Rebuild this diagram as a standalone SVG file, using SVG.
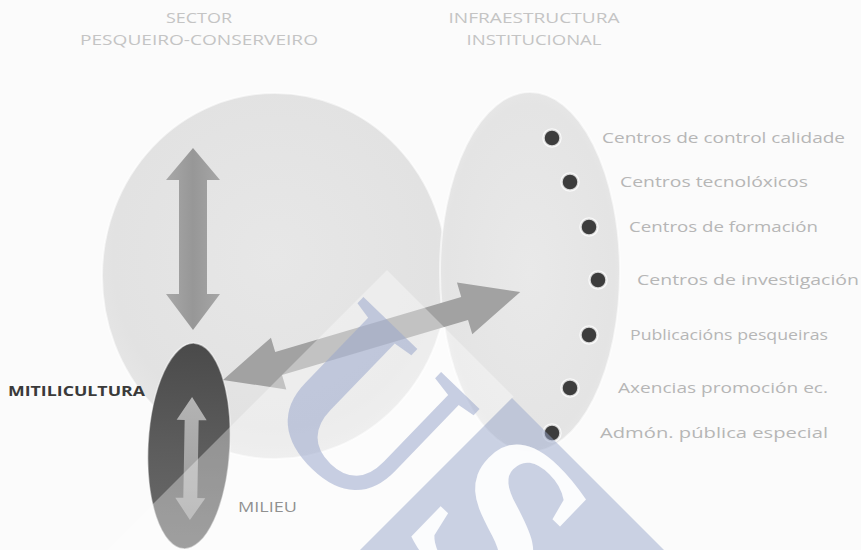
<svg xmlns="http://www.w3.org/2000/svg" width="861" height="550" viewBox="0 0 861 550">
<defs>
<style>
.hdr{font-family:"Open Sans","Liberation Sans",sans-serif;font-size:15px;fill:#c4c4c4;}
.lbl{font-family:"Open Sans","Liberation Sans",sans-serif;font-size:15px;fill:#b6b6b6;}
.dot{fill:#3d3d3d;stroke:#ffffff;stroke-width:2.5;stroke-opacity:0.8;}
.big{stroke:#ffffff;stroke-width:2;stroke-opacity:0.6;}
.wm{font-family:"Liberation Serif",serif;font-size:240px;font-weight:bold;}
</style>
<radialGradient id="gL" cx="0.5" cy="0.45" r="0.55">
<stop offset="0" stop-color="#e7e7e7"/>
<stop offset="0.85" stop-color="#e2e2e2"/>
<stop offset="1" stop-color="#e6e6e6"/>
</radialGradient>
<radialGradient id="gR" cx="0.5" cy="0.5" r="0.55">
<stop offset="0" stop-color="#e9e9e9"/>
<stop offset="0.85" stop-color="#e4e4e4"/>
<stop offset="1" stop-color="#e9e9e9"/>
</radialGradient>
<linearGradient id="gDark" x1="0" y1="0" x2="0" y2="1">
<stop offset="0" stop-color="#4a4a4a"/>
<stop offset="0.5" stop-color="#5c5c5c"/>
<stop offset="1" stop-color="#6c6c6c"/>
</linearGradient>
<linearGradient id="gV" x1="0" y1="0" x2="1" y2="0">
<stop offset="0" stop-color="#a8a8a8"/>
<stop offset="0.5" stop-color="#979797"/>
<stop offset="1" stop-color="#a6a6a6"/>
</linearGradient>
<linearGradient id="gIn" x1="0" y1="0" x2="0" y2="1">
<stop offset="0" stop-color="#b4b4b4"/>
<stop offset="1" stop-color="#9a9a9a"/>
</linearGradient>
</defs>

<rect x="0" y="0" width="861" height="550" fill="#fbfbfb"/>

<g id="node-sector">
<ellipse class="big" cx="275" cy="276" rx="173" ry="183" fill="url(#gL)"/>
<text class="hdr" x="199" y="23" text-anchor="middle" textLength="66" lengthAdjust="spacingAndGlyphs">SECTOR</text>
<text class="hdr" x="199" y="45" text-anchor="middle" textLength="238" lengthAdjust="spacingAndGlyphs">PESQUEIRO-CONSERVEIRO</text>
</g>

<g id="node-infra">
<ellipse class="big" cx="530" cy="272" rx="90" ry="180" fill="url(#gR)"/>
<text class="hdr" x="534" y="23" text-anchor="middle" textLength="171" lengthAdjust="spacingAndGlyphs">INFRAESTRUCTURA</text>
<text class="hdr" x="534" y="45" text-anchor="middle" textLength="135" lengthAdjust="spacingAndGlyphs">INSTITUCIONAL</text>
</g>

<g id="node-mitilicultura">
<ellipse cx="189" cy="446" rx="41" ry="103" fill="url(#gDark)" stroke="#ffffff" stroke-width="1.5" stroke-opacity="0.5" transform="rotate(3 189 446)"/>
<text x="8" y="396" font-family="'Open Sans','Liberation Sans',sans-serif" font-size="14" font-weight="bold" fill="#3a3a3a" textLength="137" lengthAdjust="spacingAndGlyphs">MITILICULTURA</text>
</g>

<g id="node-milieu">
<text x="238" y="512" font-family="'Open Sans','Liberation Sans',sans-serif" font-size="14" fill="#555555" textLength="59" lengthAdjust="spacingAndGlyphs">MILIEU</text>
</g>

<g id="connectors">
<polygon points="193,148 220,180 207,180 207,294 220,294 193,330 166,294 179,294 179,180 166,180" fill="url(#gV)"/>
<polygon points="191,397 206,420 198,420 198,498 206,498 191,520 176,498 184,498 184,420 176,420" fill="url(#gIn)" transform="rotate(1 191 458)"/>
<polygon points="0,0 58,-27 58,-12 252,-12 252,-27 310,0 252,27 252,12 58,12 58,27" fill="#a2a2a2" transform="translate(223,380) rotate(-16.5)"/>
</g>

<g id="node-items">
<circle class="dot" cx="552" cy="138" r="8.5"/>
<text class="lbl" x="602" y="143" textLength="243" lengthAdjust="spacingAndGlyphs">Centros de control calidade</text>
<circle class="dot" cx="570" cy="182" r="8.5"/>
<text class="lbl" x="620" y="187" textLength="188" lengthAdjust="spacingAndGlyphs">Centros tecnolóxicos</text>
<circle class="dot" cx="589" cy="227" r="8.5"/>
<text class="lbl" x="629" y="232" textLength="189" lengthAdjust="spacingAndGlyphs">Centros de formación</text>
<circle class="dot" cx="598" cy="280" r="8.5"/>
<text class="lbl" x="637" y="285" textLength="222" lengthAdjust="spacingAndGlyphs">Centros de investigación</text>
<circle class="dot" cx="589" cy="335" r="8.5"/>
<text class="lbl" x="630" y="340" textLength="198" lengthAdjust="spacingAndGlyphs">Publicacións pesqueiras</text>
<circle class="dot" cx="570" cy="388" r="8.5"/>
<text class="lbl" x="618" y="393" textLength="210" lengthAdjust="spacingAndGlyphs">Axencias promoción ec.</text>
<circle class="dot" cx="552" cy="433" r="8.5"/>
<text class="lbl" x="600" y="438" textLength="228" lengthAdjust="spacingAndGlyphs">Admón. pública especial</text>
</g>

<g id="watermark">
<polygon points="387,270 513.5,396.5 360,550 107,550" fill="#ffffff" fill-opacity="0.35"/>
<polygon points="512,398 664,550 360,550" fill="#9aa8cc" fill-opacity="0.5"/>
<text class="wm" transform="translate(250,406) rotate(44)" fill="#9aa8cc" fill-opacity="0.55">U</text>
<text class="wm" transform="translate(398,532) rotate(44)" fill="#ffffff" fill-opacity="0.92">S</text>
</g>
</svg>
